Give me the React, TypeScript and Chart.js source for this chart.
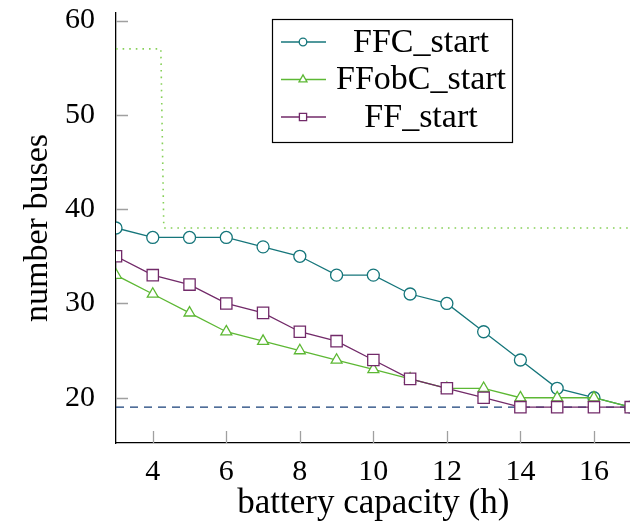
import React, { useEffect, useRef } from 'react';
import { Chart, registerables } from 'chart.js';

Chart.register(...registerables);

const capacityHours = [3, 4, 5, 6, 7, 8, 9, 10, 11, 12, 13, 14, 15, 16, 17];
const ffcStart = [38, 37, 37, 37, 36, 35, 33, 33, 31, 30, 27, 24, 21, 20, 19];
const ffobcStart = [33, 31, 29, 27, 26, 25, 24, 23, 22, 21, 21, 20, 20, 20, 19];
const ffStart = [35, 33, 32, 30, 29, 27, 26, 24, 22, 21, 20, 19, 19, 19, 19];
const upperBoundX = [3, 4.22, 4.3, 17];
const upperBoundY = [57, 57, 38, 38];
const lowerBoundX = [3, 17];
const lowerBoundY = [19, 19];
const xTickValues = [4, 6, 8, 10, 12, 14, 16];
const yTickValues = [20, 30, 40, 50, 60];
const seriesNames = ['FFC_start', 'FFobC_start', 'FF_start'];

const TEAL = '#16767b';
const GREEN = '#5db834';
const PURPLE = '#722a69';
const FONT = "'Liberation Serif', 'Times New Roman', serif";

const pts = (xs: number[], ys: number[]) => xs.map((x, i) => ({ x, y: ys[i] }));

function drawMarker(ctx: CanvasRenderingContext2D, kind: string, x: number, y: number, r: number) {
  ctx.beginPath();
  if (kind === 'circle') {
    ctx.arc(x, y, r, 0, Math.PI * 2);
  } else if (kind === 'triangle') {
    ctx.moveTo(x, y - r);
    ctx.lineTo(x + r * Math.sin((2 * Math.PI) / 3), y - r * Math.cos((2 * Math.PI) / 3));
    ctx.lineTo(x + r * Math.sin((4 * Math.PI) / 3), y - r * Math.cos((4 * Math.PI) / 3));
    ctx.closePath();
  } else {
    ctx.rect(x - r, y - r, 2 * r, 2 * r);
  }
  ctx.fillStyle = '#ffffff';
  ctx.fill();
  ctx.stroke();
}

const tickPlugin = {
  id: 'inwardTicks',
  beforeDatasetsDraw(chart: any) {
    const { ctx, chartArea } = chart;
    const xs = chart.scales.x;
    const ys = chart.scales.y;
    ctx.save();
    ctx.strokeStyle = '#a0a0a0';
    ctx.lineWidth = 1.3;
    ctx.beginPath();
    xTickValues.forEach((v) => {
      const px = Math.round(xs.getPixelForValue(v)) + 0.5;
      ctx.moveTo(px, chartArea.bottom);
      ctx.lineTo(px, chartArea.bottom - 12);
    });
    yTickValues.forEach((v) => {
      const py = Math.round(ys.getPixelForValue(v)) + 0.5;
      ctx.moveTo(chartArea.left, py);
      ctx.lineTo(chartArea.left + 12, py);
    });
    ctx.stroke();
    ctx.restore();
  },
};

const legendPlugin = {
  id: 'texLegend',
  afterDraw(chart: any) {
    const { ctx, chartArea } = chart;
    const bx = chartArea.left + 156;
    const by = chartArea.top + 6;
    const bw = 240;
    const bh = 123;
    ctx.save();
    ctx.fillStyle = '#ffffff';
    ctx.fillRect(bx, by, bw, bh);
    ctx.strokeStyle = '#000000';
    ctx.lineWidth = 1.2;
    ctx.strokeRect(bx + 0.5, by + 0.5, bw, bh);
    const colors = [TEAL, GREEN, PURPLE];
    const kinds = ['circle', 'triangle', 'square'];
    const sizes = [3.8, 4.6, 3.6];
    seriesNames.forEach((name, i) => {
      const cy = by + 23 + i * 37.5;
      ctx.strokeStyle = colors[i];
      ctx.lineWidth = 1.3;
      ctx.beginPath();
      ctx.moveTo(bx + 9, cy);
      ctx.lineTo(bx + 54, cy);
      ctx.stroke();
      drawMarker(ctx, kinds[i], bx + 31, cy, sizes[i]);
      ctx.fillStyle = '#000000';
      ctx.font = `34px ${FONT}`;
      ctx.textAlign = 'center';
      ctx.textBaseline = 'middle';
      ctx.fillText(name, bx + 149, cy + 1);
    });
    ctx.restore();
  },
};

export default function App() {
  const canvasRef = useRef<HTMLCanvasElement | null>(null);

  useEffect(() => {
    if (!canvasRef.current) return;
    const chart = new Chart(canvasRef.current, {
      type: 'line',
      data: {
        datasets: [
          {
            label: 'upper',
            data: pts(upperBoundX, upperBoundY),
            borderColor: '#86d058',
            borderWidth: 1.6,
            borderDash: [1.6, 5],
            pointRadius: 0,
            fill: false,
            order: 5,
          },
          {
            label: 'lower',
            data: pts(lowerBoundX, lowerBoundY),
            borderColor: '#173f78',
            borderWidth: 1.3,
            borderDash: [8, 6],
            pointRadius: 0,
            fill: false,
            order: 4,
          },
          {
            label: seriesNames[0],
            data: pts(capacityHours, ffcStart),
            borderColor: TEAL,
            borderWidth: 1.3,
            pointStyle: 'circle',
            pointRadius: 6,
            pointBorderWidth: 1.3,
            pointBackgroundColor: '#ffffff',
            pointBorderColor: TEAL,
            order: 3,
          },
          {
            label: seriesNames[1],
            data: pts(capacityHours, ffobcStart),
            borderColor: GREEN,
            borderWidth: 1.3,
            pointStyle: 'triangle',
            pointRadius: 6.3,
            pointBorderWidth: 1.3,
            pointBackgroundColor: '#ffffff',
            pointBorderColor: GREEN,
            order: 2,
          },
          {
            label: seriesNames[2],
            data: pts(capacityHours, ffStart),
            borderColor: PURPLE,
            borderWidth: 1.3,
            pointStyle: 'rect',
            pointRadius: 8,
            pointBorderWidth: 1.3,
            pointBackgroundColor: '#ffffff',
            pointBorderColor: PURPLE,
            order: 1,
          },
        ],
      },
      options: {
        animation: false,
        responsive: true,
        maintainAspectRatio: false,
        layout: { padding: { top: 13, right: 6, left: 0, bottom: 0 } },
        plugins: {
          legend: { display: false },
          tooltip: { enabled: false },
        },
        scales: {
          x: {
            type: 'linear',
            min: 3,
            max: 17,
            grid: { display: false },
            border: { display: true, color: '#000000', width: 1.3 },
            afterBuildTicks: (s: any) => {
              s.ticks = xTickValues.map((v) => ({ value: v }));
            },
            afterFit: (s: any) => {
              s.height = 79;
              s.paddingLeft = 0;
              s.paddingRight = 0;
            },
            ticks: {
              color: '#000000',
              padding: 3,
              maxRotation: 0,
              autoSkip: false,
              font: { family: FONT, size: 30 },
            },
            title: {
              display: true,
              text: 'battery capacity (h)',
              color: '#000000',
              font: { family: FONT, size: 35 },
              padding: { top: 0, bottom: -3 },
            },
          },
          y: {
            type: 'linear',
            min: 15.2,
            max: 60.8,
            grid: { display: false },
            border: { display: true, color: '#000000', width: 1.3 },
            afterBuildTicks: (s: any) => {
              s.ticks = yTickValues.map((v) => ({ value: v }));
            },
            afterFit: (s: any) => {
              s.width = 116;
              s.paddingTop = 0;
              s.paddingBottom = 0;
            },
            ticks: {
              color: '#000000',
              padding: 13,
              autoSkip: false,
              font: { family: FONT, size: 30 },
            },
            title: {
              display: true,
              text: 'number buses',
              color: '#000000',
              font: { family: FONT, size: 34 },
              padding: { top: 18, bottom: 0 },
            },
          },
        },
      },
      plugins: [tickPlugin, legendPlugin],
    });
    return () => chart.destroy();
  }, []);

  return (
    <div style={{ position: 'fixed', left: 0, top: 0, width: 630, height: 522, overflow: 'hidden', background: '#ffffff' }}>
      <div style={{ position: 'relative', width: 640, height: 522 }}>
        <canvas ref={canvasRef} />
      </div>
    </div>
  );
}
